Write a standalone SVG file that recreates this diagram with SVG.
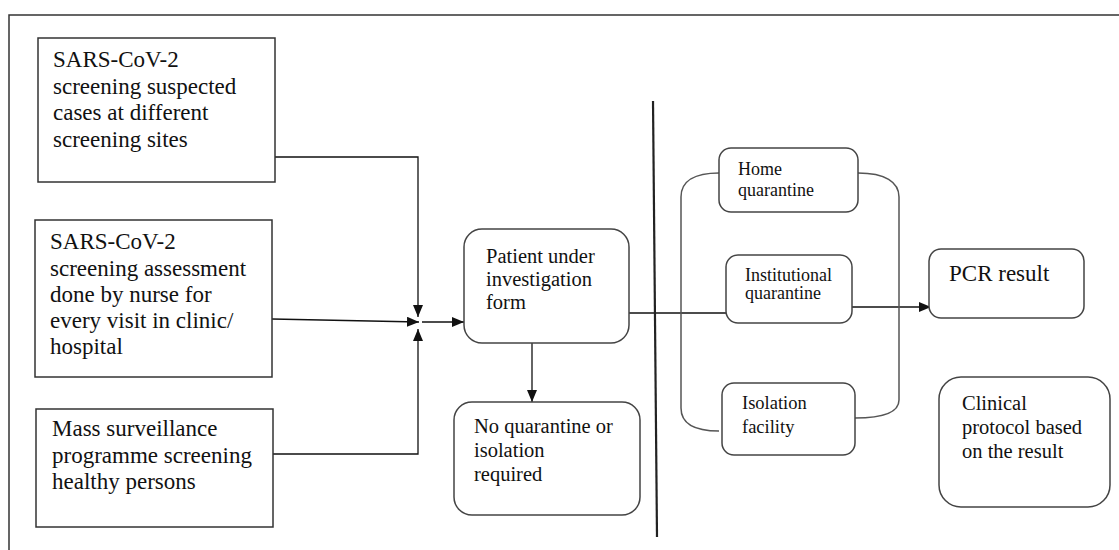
<svg xmlns="http://www.w3.org/2000/svg" width="1119" height="550" viewBox="0 0 1119 550" font-family="'Liberation Serif', 'Times New Roman', Tinos, 'DejaVu Serif', serif">
<style>
.frame{fill:none;stroke:#333;stroke-width:1.5}
.box{fill:#fff;stroke:#333;stroke-width:1.5}
.rbox{fill:#fff;stroke:#444;stroke-width:1.5}
.ln{fill:none;stroke:#111;stroke-width:1.3}
.div{fill:none;stroke:#222;stroke-width:2.2}
.br{fill:none;stroke:#555;stroke-width:1.5}
text{fill:#111}
.t23{font-size:23px}
.t21{font-size:20.5px}
.t18{font-size:18px}
.t185{font-size:18.5px}
.tpcr{font-size:23px}
</style>
<defs>
<marker id="ah" markerUnits="userSpaceOnUse" markerWidth="14" markerHeight="12" refX="12" refY="5" orient="auto">
<path d="M0,0 L12,5 L0,10 z" fill="#111"/>
</marker>
</defs>
<rect x="9" y="15" width="1130" height="560" class="frame"/>
<g id="connectors">
<path class="ln" d="M274,62 V157 H418 V317" marker-end="url(#ah)"/>
<path class="ln" d="M272,319 L419,322" marker-end="url(#ah)"/>
<path class="ln" d="M273,454 H418 V329" marker-end="url(#ah)"/>
<path class="ln" d="M422,322 H464" marker-end="url(#ah)"/>
<path class="ln" d="M532,343 V402" marker-end="url(#ah)"/>
<path class="ln" d="M629,313 H730"/>
<path class="ln" d="M852,307 H931" marker-end="url(#ah)"/>
<path class="div" d="M653,101 L657,537"/>
<path class="br" d="M719,173 C695,173 681,181 681,197 L681,408 C681,424 695,431 719,431"/>
<path class="br" d="M858,173 C885,173 899,182 899,197 L899,400 C899,412 885,418 855,418"/>
</g>
<g id="box1">
<rect class="box" x="38" y="38" width="237" height="144"/>
<text class="t23" x="53" y="67">SARS-CoV-2</text>
<text class="t23" x="53" y="94">screening suspected</text>
<text class="t23" x="53" y="120">cases at different</text>
<text class="t23" x="53" y="147">screening sites</text>
</g>
<g id="box2">
<rect class="box" x="35" y="220" width="237" height="157"/>
<text class="t23" x="50" y="249">SARS-CoV-2</text>
<text class="t23" x="50" y="276">screening assessment</text>
<text class="t23" x="50" y="302">done by nurse for</text>
<text class="t23" x="50" y="328">every visit in clinic/</text>
<text class="t23" x="50" y="354">hospital</text>
</g>
<g id="box3">
<rect class="box" x="36" y="409" width="237" height="118"/>
<text class="t23" x="52" y="436">Mass surveillance</text>
<text class="t23" x="52" y="463">programme screening</text>
<text class="t23" x="52" y="489">healthy persons</text>
</g>
<g id="patient">
<rect class="rbox" x="464" y="229" width="165" height="114" rx="18"/>
<text class="t21" x="486" y="263">Patient under</text>
<text class="t21" x="486" y="286">investigation</text>
<text class="t21" x="486" y="309">form</text>
</g>
<g id="noquarantine">
<rect class="rbox" x="454" y="402" width="186" height="113" rx="18"/>
<text class="t21" x="474" y="433">No quarantine or</text>
<text class="t21" x="474" y="457">isolation</text>
<text class="t21" x="474" y="481">required</text>
</g>
<g id="home">
<rect class="rbox" x="719" y="148" width="139" height="64" rx="12"/>
<text class="t18" x="738" y="175">Home</text>
<text class="t18" x="738" y="196">quarantine</text>
</g>
<g id="institutional">
<rect class="rbox" x="726" y="255" width="126" height="68" rx="12"/>
<text class="t18" x="745" y="281">Institutional</text>
<text class="t18" x="745" y="299">quarantine</text>
</g>
<g id="isolation">
<rect class="rbox" x="722" y="383" width="133" height="72" rx="12"/>
<text class="t185" x="742" y="409">Isolation</text>
<text class="t185" x="742" y="433">facility</text>
</g>
<g id="pcr">
<rect class="rbox" x="929" y="249" width="155" height="69" rx="12"/>
<text class="tpcr" x="949" y="281">PCR result</text>
</g>
<g id="clinical">
<rect class="rbox" x="939" y="377" width="171" height="130" rx="22"/>
<text class="t21" x="962" y="410">Clinical</text>
<text class="t21" x="962" y="434">protocol based</text>
<text class="t21" x="962" y="458">on the result</text>
</g>
</svg>
